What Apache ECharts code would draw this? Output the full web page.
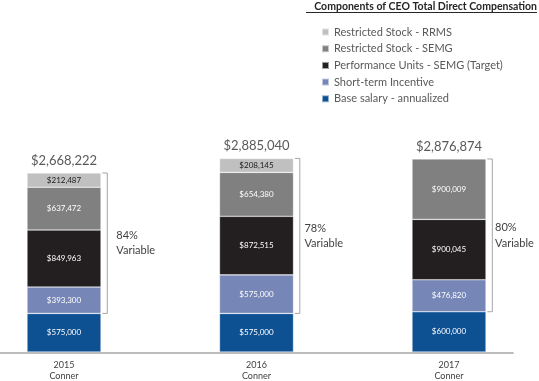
<!DOCTYPE html>
<html>
<head>
<meta charset="utf-8">
<script src="https://cdn.jsdelivr.net/npm/echarts@6/dist/echarts.min.js"></script>
<style>html,body{margin:0;padding:0;background:#fff}#c{width:539px;height:381px}</style>
</head>
<body>
<div id="c"></div>
<script>
var categories = ['2015\nConner', '2016\nConner', '2017\nConner'];
var baseSalary = [575000, 575000, 600000];
var shortTerm = [393300, 575000, 476820];
var perfUnits = [849963, 872515, 900045];
var rsSemg = [637472, 654380, 900009];
var rsRrms = [212487, 208145, '-'];
var totals = [2668222, 2885040, 2876874];
var variablePct = ['84%', '78%', '80%'];

var FONT = 'Lato, "Liberation Sans", sans-serif';
var TEXT_GAP = [9, 4.6, 2.8];
function money(v) { return '$' + Math.round(v).toLocaleString('en-US'); }

var chart = echarts.init(document.getElementById('c'), null, { renderer: 'canvas' });

function barSeries(name, data, color, labelColor) {
  return {
    name: name, type: 'bar', stack: 'total', barWidth: 74,
    xAxisIndex: 0, yAxisIndex: 0,
    data: data,
    itemStyle: { color: color, borderColor: 'rgba(255,255,255,0.55)', borderWidth: 0.6 },
    label: {
      show: true, position: 'inside', color: labelColor, fontFamily: FONT, fontSize: 8,
      formatter: function (p) { return money(p.value); }
    },
    emphasis: { disabled: true }
  };
}

var bracketData = categories.map(function (c, i) { return [i, baseSalary[i], totals[i]]; });
var totalData = categories.map(function (c, i) { return [i, totals[i]]; });

var option = {
  animation: false,
  textStyle: { fontFamily: FONT },
  title: {
    text: 'Components of CEO Total Direct Compensation',
    right: 2, top: 1, padding: 0,
    textStyle: { fontFamily: FONT, fontSize: 10.5, fontWeight: 'bold', color: '#262626' }
  },
  graphic: [{
    type: 'line', shape: { x1: 306, y1: 12.5, x2: 537, y2: 12.5 },
    style: { stroke: '#262626', lineWidth: 1 }, silent: true
  }],
  legend: {
    orient: 'vertical', left: 316, top: 21,
    itemWidth: 7, itemHeight: 7, itemGap: 4.7, icon: 'rect',
    textStyle: { fontFamily: FONT, fontSize: 11, lineHeight: 12, color: '#595959' },
    data: ['Restricted Stock - RRMS', 'Restricted Stock - SEMG', 'Performance Units - SEMG (Target)', 'Short-term Incentive', 'Base salary - annualized'],
    selectedMode: false
  },
  grid: [
    { left: -32.25, width: 577.5, top: 100, height: 252, outerBoundsMode: 'none', containLabel: false },
    { left: 0, width: 513, top: 100, height: 252.5, outerBoundsMode: 'none', containLabel: false }
  ],
  xAxis: [{
    type: 'category', data: categories, gridIndex: 0,
    axisLine: { show: false, lineStyle: { color: 'rgba(0,0,0,0)', width: 0 } },
    axisTick: { show: false }, splitLine: { show: false },
    axisLabel: { margin: 7, color: '#404040', fontFamily: FONT, fontSize: 9, lineHeight: 11.5 }
  }, {
    type: 'value', gridIndex: 1, min: 0, max: 1,
    axisLine: { show: true, onZero: false, lineStyle: { color: '#bcbcbc', width: 1.8 } },
    axisTick: { show: false }, splitLine: { show: false }, axisLabel: { show: false }
  }],
  yAxis: [
    { type: 'value', gridIndex: 0, min: 0, max: 3756000, show: false },
    { type: 'value', gridIndex: 1, min: 0, max: 1, show: false }
  ],
  series: [
    barSeries('Base salary - annualized', baseSalary, '#0d5193', '#ffffff'),
    barSeries('Short-term Incentive', shortTerm, '#7686b6', '#ffffff'),
    barSeries('Performance Units - SEMG (Target)', perfUnits, '#231f20', '#ffffff'),
    barSeries('Restricted Stock - SEMG', rsSemg, '#808080', '#ffffff'),
    barSeries('Restricted Stock - RRMS', rsRrms, '#c0c0c0', '#1a1a1a'),
    {
      type: 'custom', name: 'bracket', data: bracketData, silent: true,
      renderItem: function (params, api) {
        var lo = api.coord([api.value(0), api.value(1)]);
        var hi = api.coord([api.value(0), api.value(2)]);
        var xr = lo[0] + 37 + 6.3;
        var mid = (lo[1] + hi[1]) / 2;
        return {
          type: 'group', children: [
            { type: 'polyline', shape: { points: [[xr - 5, hi[1]], [xr, hi[1]], [xr, lo[1]], [xr - 5, lo[1]]] },
              style: { stroke: '#a6a6a6', lineWidth: 1, fill: null } },
            { type: 'text', x: xr + TEXT_GAP[params.dataIndex], y: mid,
              style: { text: variablePct[params.dataIndex] + '\nVariable', fill: '#404040', fontFamily: FONT,
                       fontSize: 11, lineHeight: 15.5, verticalAlign: 'middle', align: 'left' } }
          ]
        };
      }
    },
    {
      type: 'custom', name: 'totals', data: totalData, silent: true,
      renderItem: function (params, api) {
        var p = api.coord([api.value(0), api.value(1)]);
        return { type: 'text', x: p[0], y: p[1] - 6,
          style: { text: money(api.value(1)), fill: '#595959', fontFamily: FONT, fontSize: 13,
                   align: 'center', verticalAlign: 'bottom' } };
      }
    }
  ]
};
chart.setOption(option);
</script>
</body>
</html>
